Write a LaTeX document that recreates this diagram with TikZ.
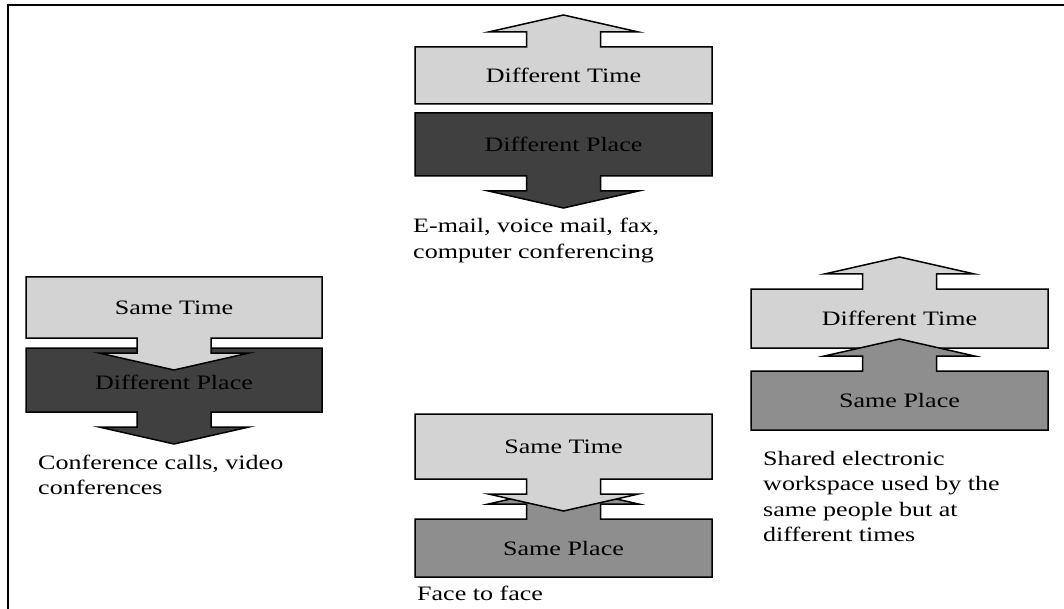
\documentclass[tikz,border=0pt]{standalone}
\usepackage{fontspec}
\setmainfont{Liberation Serif}
\usepackage{graphicx}
\definecolor{lightg}{RGB}{211,211,211}
\definecolor{midg}{RGB}{142,142,142}
\definecolor{darkg}{RGB}{64,64,64}
\newcommand{\wide}[1]{\scalebox{1.27}[1]{#1}}
\begin{document}
\begin{tikzpicture}[x=1pt,y=-1pt,
		blk/.style={draw=black,line width=1.5pt,line join=miter},
		lab/.style={font=\fontsize{20.5}{25.5}\selectfont,inner sep=0pt}]
		\useasboundingbox (0,0) rectangle (1064,609);
		\draw[line width=1.6pt] (8,609) -- (8,5) -- (1064,5);
		% block arrows: left x / right x / arrow edge / far edge / direction / fill
		\foreach \xa/\xb/\e/\f/\d/\c in {26/322/412/348/1/darkg,415/712/176/113/1/darkg,415/712/47/104/-1/lightg,751/1048/289/348/-1/lightg,751/1048/371/430/-1/midg,415/712/519/577/-1/midg,26/322/338/277/1/lightg,415/712/479/414/1/lightg} \draw[blk,fill=\c] (\xa,\f) -- (\xa,\e) -- ({(\xa+\xb)/2-37},\e) -- ({(\xa+\xb)/2-37},{\e+15*\d}) -- ({(\xa+\xb)/2-75},{\e+15*\d}) -- ({(\xa+\xb)/2},{\e+32*\d}) -- ({(\xa+\xb)/2+75},{\e+15*\d}) -- ({(\xa+\xb)/2+37},{\e+15*\d}) -- ({(\xa+\xb)/2+37},\e) -- (\xb,\e) -- (\xb,\f) -- cycle;
		\foreach \n/\x/\y/\t in {dtimeA/563.5/75.5/Different Time,dplaceA/563.5/144.5/Different Place,stimeB/174/307.5/Same Time,dplaceB/174/382/Different Place,dtimeC/899.5/318.5/Different Time,splaceC/899.5/400.5/Same Place,stimeD/563.5/446.5/Same Time,splaceD/563.5/548/Same Place} \node[lab] (\n) at (\x,\y) {\wide{\t}};
		\node[lab,anchor=base west] (mailtxt) at (413,233) {\wide{\begin{tabular}[t]{@{}l@{}}E-mail, voice mail, fax,\\computer conferencing\end{tabular}}};
		\node[lab,anchor=base west] (calltxt) at (38,469) {\wide{\begin{tabular}[t]{@{}l@{}}Conference calls, video\\conferences\end{tabular}}};
		\node[lab,anchor=base west] (sharetxt) at (763,465) {\wide{\begin{tabular}[t]{@{}l@{}}Shared electronic\\workspace used by the\\same people but at\\different times\end{tabular}}};
		\node[lab,anchor=base west] (facetxt) at (417,600) {\wide{Face to face}};
	\end{tikzpicture}
\end{document}
